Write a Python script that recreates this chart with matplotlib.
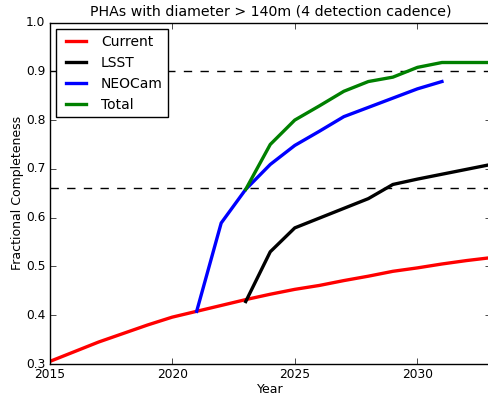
import matplotlib
matplotlib.use("Agg")
import matplotlib.pyplot as plt
from matplotlib.ticker import FixedFormatter

plt.style.use("classic")

years_current = [2015, 2017, 2019, 2020, 2021, 2022, 2023, 2024, 2025, 2026, 2027, 2028, 2029, 2030, 2031, 2032, 2033]
current = [0.305, 0.345, 0.380, 0.396, 0.408, 0.420, 0.432, 0.443, 0.453, 0.461, 0.471, 0.480, 0.490, 0.497, 0.505, 0.512, 0.518]

years_lsst = [2023, 2024, 2025, 2026, 2027, 2028, 2029, 2030, 2031, 2032, 2033]
lsst = [0.428, 0.530, 0.579, 0.599, 0.619, 0.639, 0.668, 0.679, 0.689, 0.699, 0.709]

years_neocam = [2021, 2022, 2023, 2024, 2025, 2026, 2027, 2028, 2029, 2030, 2031]
neocam = [0.408, 0.589, 0.658, 0.709, 0.748, 0.777, 0.807, 0.826, 0.845, 0.864, 0.879]

years_total = [2023, 2024, 2025, 2026, 2027, 2028, 2029, 2030, 2031, 2032, 2033]
total = [0.658, 0.750, 0.800, 0.829, 0.859, 0.879, 0.888, 0.908, 0.918, 0.918, 0.918]

thresholds = [0.9, 0.66]

x_ticks = [2015, 2020, 2025, 2030]
x_tick_labels = ["2015", "2020", "2025", "2030"]
y_ticks = [0.3, 0.4, 0.5, 0.6, 0.7, 0.8, 0.9, 1.0]
y_tick_labels = ["0.3", "0.4", "0.5", "0.6", "0.7", "0.8", "0.9", "1.0"]

W, H = 488, 397
fig = plt.figure(figsize=(W / 100, H / 100), dpi=100, facecolor="white")
left, right, top, bottom = 49.5, 491, 22.5, 364
ax = fig.add_axes([left / W, (H - bottom) / H, (right - left) / W, (bottom - top) / H])

for t in thresholds:
    ax.axhline(t, color="black", linestyle="--", linewidth=1)

lw = 2.4
ax.plot(years_current, current, color="red", linewidth=lw, label="Current")
ax.plot(years_lsst, lsst, color="black", linewidth=lw, label="LSST")
ax.plot(years_neocam, neocam, color="blue", linewidth=lw, label="NEOCam")
ax.plot(years_total, total, color="green", linewidth=lw, label="Total")

ax.set_xlim(2015, 2033)
ax.set_ylim(0.3, 1.0)
ax.set_xticks(x_ticks)
ax.xaxis.set_major_formatter(FixedFormatter(x_tick_labels))
ax.set_yticks(y_ticks)
ax.yaxis.set_major_formatter(FixedFormatter(y_tick_labels))
ax.tick_params(labelsize=8.8, pad=3)
ax.set_xlabel("Year", fontsize=9, labelpad=1)
ax.set_ylabel("Fractional Completeness", fontsize=9, labelpad=1)
ax.set_title("PHAs with diameter > 140m (4 detection cadence)", fontsize=10.2)
ax.legend(loc="upper left", fontsize=10)

fig.savefig("out.png", dpi=100, facecolor="white")
